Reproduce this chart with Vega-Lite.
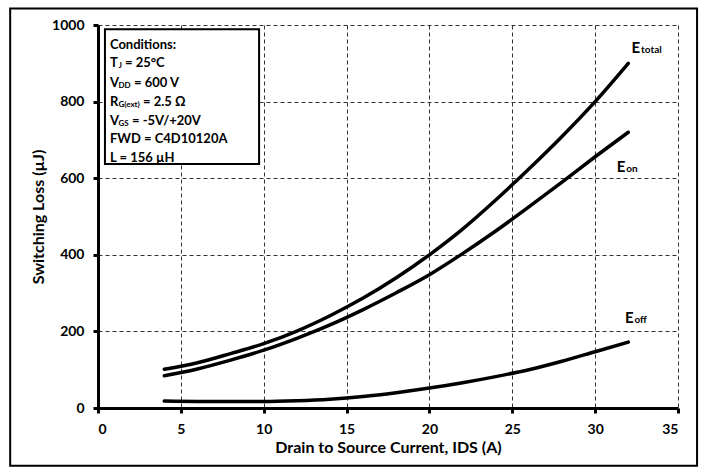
{
  "$schema": "https://vega.github.io/schema/vega-lite/v6.json",
  "width": 580,
  "height": 383,
  "autosize": "none",
  "padding": {"left": 98, "top": 25, "right": 26, "bottom": 64},
  "background": "white",
  "config": {
    "view": {"stroke": null},
    "font": "Lato",
    "axis": {
      "labelFont": "Lato", "labelFontWeight": "bold", "labelFontSize": 14, "labelColor": "black",
      "titleFont": "Lato", "titleFontWeight": "bold", "titleFontSize": 16, "titleColor": "black",
      "domainColor": "black", "domainWidth": 3,
      "tickColor": "black", "tickWidth": 3, "tickSize": 5,
      "gridColor": "#333", "gridDash": [4, 3], "gridWidth": 1, "gridOpacity": 1
    }
  },
  "datasets": {
    "curves": [
      {"ids": 4, "loss": 101, "series": "Etotal"},
      {"ids": 6, "loss": 118, "series": "Etotal"},
      {"ids": 8, "loss": 142, "series": "Etotal"},
      {"ids": 10, "loss": 168, "series": "Etotal"},
      {"ids": 12, "loss": 201, "series": "Etotal"},
      {"ids": 14, "loss": 241, "series": "Etotal"},
      {"ids": 16, "loss": 287, "series": "Etotal"},
      {"ids": 18, "loss": 340, "series": "Etotal"},
      {"ids": 20, "loss": 400, "series": "Etotal"},
      {"ids": 22, "loss": 467, "series": "Etotal"},
      {"ids": 24, "loss": 543, "series": "Etotal"},
      {"ids": 26, "loss": 624, "series": "Etotal"},
      {"ids": 28, "loss": 709, "series": "Etotal"},
      {"ids": 30, "loss": 800, "series": "Etotal"},
      {"ids": 32, "loss": 900, "series": "Etotal"},
      {"ids": 4, "loss": 84, "series": "Eon"},
      {"ids": 6, "loss": 102, "series": "Eon"},
      {"ids": 8, "loss": 125, "series": "Eon"},
      {"ids": 10, "loss": 151, "series": "Eon"},
      {"ids": 12, "loss": 182, "series": "Eon"},
      {"ids": 14, "loss": 217, "series": "Eon"},
      {"ids": 16, "loss": 257, "series": "Eon"},
      {"ids": 18, "loss": 301, "series": "Eon"},
      {"ids": 20, "loss": 348, "series": "Eon"},
      {"ids": 22, "loss": 403, "series": "Eon"},
      {"ids": 24, "loss": 462, "series": "Eon"},
      {"ids": 26, "loss": 525, "series": "Eon"},
      {"ids": 28, "loss": 590, "series": "Eon"},
      {"ids": 30, "loss": 656, "series": "Eon"},
      {"ids": 32, "loss": 720, "series": "Eon"},
      {"ids": 4, "loss": 18, "series": "Eoff"},
      {"ids": 6, "loss": 17, "series": "Eoff"},
      {"ids": 8, "loss": 17, "series": "Eoff"},
      {"ids": 10, "loss": 17, "series": "Eoff"},
      {"ids": 12, "loss": 19, "series": "Eoff"},
      {"ids": 14, "loss": 23, "series": "Eoff"},
      {"ids": 16, "loss": 30, "series": "Eoff"},
      {"ids": 18, "loss": 40, "series": "Eoff"},
      {"ids": 20, "loss": 52, "series": "Eoff"},
      {"ids": 22, "loss": 66, "series": "Eoff"},
      {"ids": 24, "loss": 82, "series": "Eoff"},
      {"ids": 26, "loss": 100, "series": "Eoff"},
      {"ids": 28, "loss": 122, "series": "Eoff"},
      {"ids": 30, "loss": 147, "series": "Eoff"},
      {"ids": 32, "loss": 172, "series": "Eoff"}
    ],
    "curveLabels": [
      {"ids": 32.2, "loss": 941, "main": "E", "sub": "total"},
      {"ids": 31.3, "loss": 629, "main": "E", "sub": "on"},
      {"ids": 31.8, "loss": 234, "main": "E", "sub": "off"}
    ],
    "box": [{"x0": 0.42, "x1": 9.72, "y0": 989, "y1": 637}],
    "frame": [{"x0": -5.3, "x1": 36.15, "y0": 1043, "y1": -151}],
    "notes": [
      {"line": "c", "ids": 0.72, "loss": 949, "main": "Conditions:", "sub": "", "rest": ""},
      {"line": "tj", "ids": 0.72, "loss": 900, "main": "T", "sub": "J", "rest": "= 25°C"},
      {"line": "vdd", "ids": 0.72, "loss": 848, "main": "V", "sub": "DD", "rest": "= 600 V"},
      {"line": "rg", "ids": 0.72, "loss": 798, "main": "R", "sub": "G(ext)", "rest": "= 2.5 Ω"},
      {"line": "vgs", "ids": 0.72, "loss": 749, "main": "V", "sub": "GS", "rest": "= -5V/+20V"},
      {"line": "fwd", "ids": 0.72, "loss": 702, "main": "FWD = C4D10120A", "sub": "", "rest": ""},
      {"line": "l", "ids": 0.72, "loss": 653, "main": "L = 156 µH", "sub": "", "rest": ""}
    ]
  },
  "layer": [
    {
      "data": {"name": "frame"},
      "mark": {"type": "rect", "fill": null, "stroke": "black", "strokeWidth": 2, "clip": false},
      "encoding": {
        "x": {"field": "x0", "type": "quantitative"},
        "x2": {"field": "x1"},
        "y": {"field": "y0", "type": "quantitative"},
        "y2": {"field": "y1"}
      }
    },
    {
      "data": {"name": "curves"},
      "mark": {"type": "line", "color": "black", "strokeWidth": 3.5, "interpolate": "monotone", "strokeCap": "round"},
      "encoding": {
        "x": {
          "field": "ids", "type": "quantitative",
          "scale": {"domain": [0, 35], "nice": false},
          "axis": {"values": [0, 5, 10, 15, 20, 25, 30, 35], "title": "Drain to Source Current, IDS (A)", "titlePadding": 3, "labelPadding": 9}
        },
        "y": {
          "field": "loss", "type": "quantitative",
          "scale": {"domain": [0, 1000], "nice": false},
          "axis": {"values": [0, 200, 400, 600, 800, 1000], "format": "d", "title": "Switching Loss (µJ)", "titlePadding": 5, "labelPadding": 9}
        },
        "detail": {"field": "series"}
      }
    },
    {
      "data": {"name": "box"},
      "mark": {"type": "rect", "fill": "white", "stroke": "black", "strokeWidth": 2},
      "encoding": {
        "x": {"field": "x0", "type": "quantitative"},
        "x2": {"field": "x1"},
        "y": {"field": "y0", "type": "quantitative"},
        "y2": {"field": "y1"}
      }
    },
    {
      "data": {"name": "notes"},
      "mark": {"type": "text", "align": "left", "baseline": "middle", "fontWeight": "bold", "fontSize": 13, "font": "Lato"},
      "encoding": {
        "x": {"field": "ids", "type": "quantitative"},
        "y": {"field": "loss", "type": "quantitative"},
        "text": {"field": "main"}
      }
    },
    {
      "data": {"name": "notes"},
      "transform": [{"filter": "datum.sub != ''"}],
      "mark": {"type": "text", "align": "left", "baseline": "middle", "fontWeight": "bold", "fontSize": 8, "font": "Lato", "dx": 8.5, "dy": 3},
      "encoding": {
        "x": {"field": "ids", "type": "quantitative"},
        "y": {"field": "loss", "type": "quantitative"},
        "text": {"field": "sub"}
      }
    },
    {
      "data": {"name": "notes"},
      "transform": [{"filter": "datum.line == 'tj'"}],
      "mark": {"type": "text", "align": "left", "baseline": "middle", "fontWeight": "bold", "fontSize": 13, "font": "Lato", "dx": 15},
      "encoding": {
        "x": {"field": "ids", "type": "quantitative"},
        "y": {"field": "loss", "type": "quantitative"},
        "text": {"field": "rest"}
      }
    },
    {
      "data": {"name": "notes"},
      "transform": [{"filter": "datum.line == 'vdd'"}],
      "mark": {"type": "text", "align": "left", "baseline": "middle", "fontWeight": "bold", "fontSize": 13, "font": "Lato", "dx": 24},
      "encoding": {
        "x": {"field": "ids", "type": "quantitative"},
        "y": {"field": "loss", "type": "quantitative"},
        "text": {"field": "rest"}
      }
    },
    {
      "data": {"name": "notes"},
      "transform": [{"filter": "datum.line == 'rg'"}],
      "mark": {"type": "text", "align": "left", "baseline": "middle", "fontWeight": "bold", "fontSize": 13, "font": "Lato", "dx": 33},
      "encoding": {
        "x": {"field": "ids", "type": "quantitative"},
        "y": {"field": "loss", "type": "quantitative"},
        "text": {"field": "rest"}
      }
    },
    {
      "data": {"name": "notes"},
      "transform": [{"filter": "datum.line == 'vgs'"}],
      "mark": {"type": "text", "align": "left", "baseline": "middle", "fontWeight": "bold", "fontSize": 13, "font": "Lato", "dx": 22},
      "encoding": {
        "x": {"field": "ids", "type": "quantitative"},
        "y": {"field": "loss", "type": "quantitative"},
        "text": {"field": "rest"}
      }
    },
    {
      "data": {"name": "curveLabels"},
      "mark": {"type": "text", "align": "left", "baseline": "middle", "fontWeight": "bold", "fontSize": 15, "font": "Lato"},
      "encoding": {
        "x": {"field": "ids", "type": "quantitative"},
        "y": {"field": "loss", "type": "quantitative"},
        "text": {"field": "main"}
      }
    },
    {
      "data": {"name": "curveLabels"},
      "mark": {"type": "text", "align": "left", "baseline": "middle", "fontWeight": "bold", "fontSize": 10, "font": "Lato", "dx": 9.5, "dy": 2},
      "encoding": {
        "x": {"field": "ids", "type": "quantitative"},
        "y": {"field": "loss", "type": "quantitative"},
        "text": {"field": "sub"}
      }
    }
  ]
}
